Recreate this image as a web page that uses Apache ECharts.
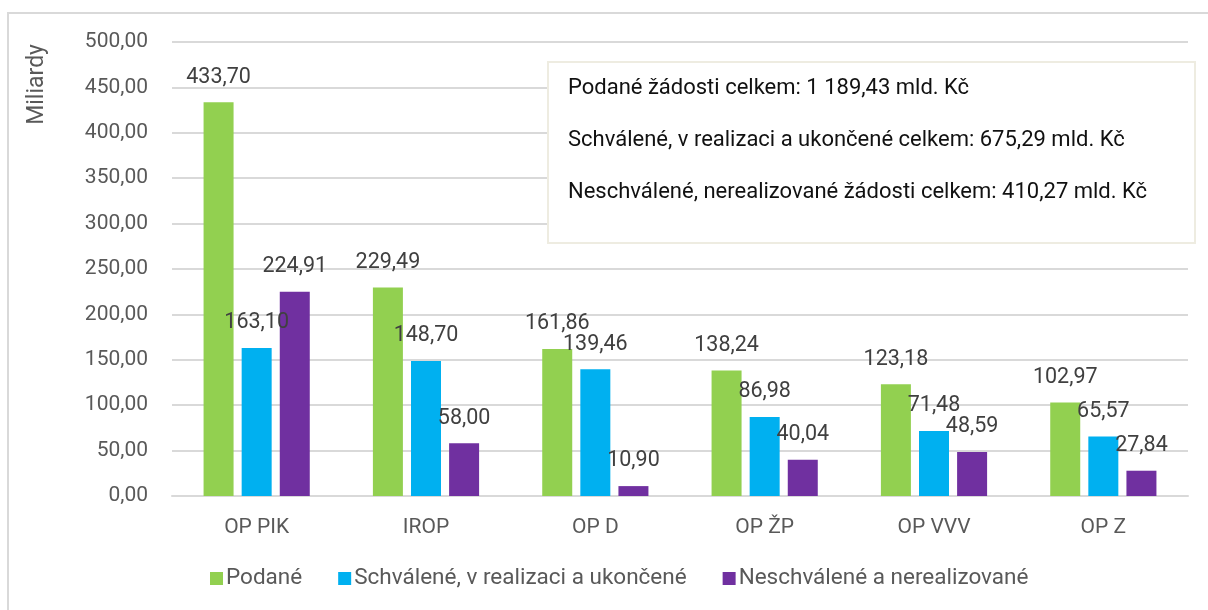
<!DOCTYPE html>
<html>
<head>
<meta charset="utf-8">
<script src="https://cdn.jsdelivr.net/npm/echarts@6/dist/echarts.min.js"></script>
<style>
  html, body { margin: 0; padding: 0; background: #fff; }
  #chart { width: 1208px; height: 610px; }
</style>
</head>
<body>
<div id="chart"></div>
<script>
const categories = ["OP PIK", "IROP", "OP D", "OP ŽP", "OP VVV", "OP Z"]
const podane = [433.70, 229.49, 161.86, 138.24, 123.18, 102.97]
const schvalene = [163.10, 148.70, 139.46, 86.98, 71.48, 65.57]
const neschvalene = [224.91, 58.00, 10.90, 40.04, 48.59, 27.84]
const seriesNames = ["Podané", "Schválené, v realizaci a ukončené", "Neschválené a nerealizované"]
const boxLines = [
  "Podané žádosti celkem: 1 189,43 mld. Kč",
  "Schválené, v realizaci a ukončené celkem: 675,29 mld. Kč",
  "Neschválené, nerealizované žádosti celkem: 410,27 mld. Kč"
]

const fmt = v => v.toFixed(2).replace(".", ",")
const font = "Roboto"

function barSeries(name, data, color) {
  return {
    name,
    type: "bar",
    data,
    barWidth: 30,
    barGap: "27%",
    itemStyle: { color },
    label: {
      show: true,
      position: "top",
      distance: 14,
      fontFamily: font,
      fontSize: 21.5,
      color: "#404040",
      formatter: p => fmt(p.value)
    }
  }
}

const chart = echarts.init(document.getElementById("chart"))

chart.setOption({
  animation: false,
  textStyle: { fontFamily: font },
  grid: { left: 172, right: 20, top: 42, bottom: 114 },
  xAxis: {
    type: "category",
    data: categories,
    axisLine: { lineStyle: { color: "#d9d9d9", width: 2 } },
    axisTick: { show: false },
    axisLabel: { color: "#595959", fontSize: 21, fontFamily: font, margin: 21 }
  },
  yAxis: {
    type: "value",
    min: 0,
    max: 500,
    interval: 50,
    axisLine: { show: false },
    axisTick: { show: false },
    splitLine: { lineStyle: { color: "#d9d9d9", width: 2 } },
    axisLabel: { color: "#595959", fontSize: 21, fontFamily: font, margin: 24, formatter: fmt }
  },
  legend: {
    bottom: 15,
    left: 205,
    icon: "rect",
    itemWidth: 13,
    itemHeight: 13,
    itemGap: 36,
    textStyle: { color: "#595959", fontSize: 22.5, fontFamily: font, padding: [0, 0, 0, -2] },
    data: seriesNames
  },
  graphic: [
    {
      type: "rect",
      silent: true,
      z: 100,
      shape: { x: 8, y: 13, width: 1400, height: 800 },
      style: { fill: null, stroke: "#d9d9d9", lineWidth: 2 }
    },
    {
      type: "text",
      left: 26,
      top: 44,
      z: 100,
      rotation: Math.PI / 2,
      style: { text: "Miliardy", fontSize: 23, fontFamily: font, fill: "#595959" }
    },
    {
      type: "rect",
      z: 100,
      shape: { x: 548, y: 62, width: 647, height: 181 },
      style: { fill: "#fff", stroke: "#eeece1", lineWidth: 2 }
    },
    ...boxLines.map((t, i) => ({
      type: "text",
      z: 101,
      x: 568,
      y: 88 + i * 52,
      style: { text: t, fontSize: 22, fontFamily: font, fill: "#111", verticalAlign: "middle" }
    }))
  ],
  series: [
    barSeries(seriesNames[0], podane, "#92d050"),
    barSeries(seriesNames[1], schvalene, "#00b0f0"),
    barSeries(seriesNames[2], neschvalene, "#7030a0")
  ]
})
</script>
</body>
</html>
